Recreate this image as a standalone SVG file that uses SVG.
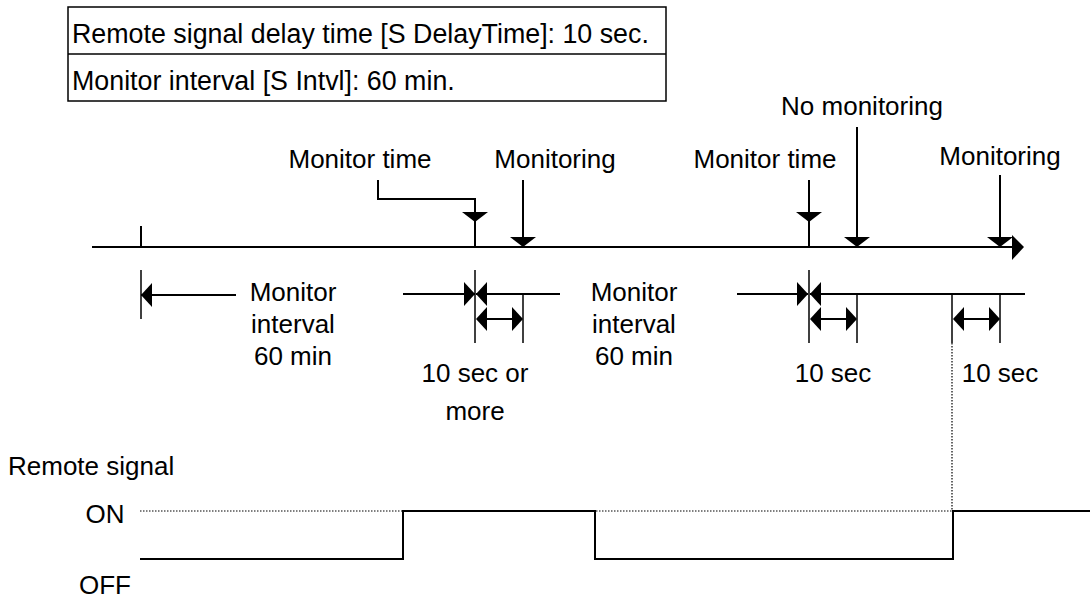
<svg xmlns="http://www.w3.org/2000/svg" width="1090" height="599" viewBox="0 0 1090 599">
<style>
text{font-family:"Liberation Sans",Arial,sans-serif;font-size:26px;fill:#000}
.tb{font-size:26.8px}
.m{text-anchor:middle}
.ln{stroke:#000;stroke-width:2;fill:none}
.thin{stroke:#000;stroke-width:1.5;fill:none}
.dot{stroke:#000;stroke-width:1.2;stroke-dasharray:1.5 1.5;fill:none}
.ah{fill:#000;stroke:none}
</style>
<rect width="1090" height="599" fill="#fff"/>
<g id="settings">
<rect x="68" y="7" width="598" height="94" class="thin"/>
<line x1="68" y1="54" x2="666" y2="54" class="thin"/>
<text class="tb" x="72" y="43">Remote signal delay time [S DelayTime]: 10 sec.</text>
<text class="tb" x="72" y="90">Monitor interval [S Intvl]: 60 min.</text>
</g>
<g id="labels-top">
<text class="m" x="360" y="168">Monitor time</text>
<text class="m" x="555" y="168">Monitoring</text>
<text class="m" x="765" y="168">Monitor time</text>
<text class="m" x="862" y="115">No monitoring</text>
<text class="m" x="1000" y="165">Monitoring</text>
</g>
<g id="timeline">
<line x1="92" y1="247" x2="1015" y2="247" class="ln"/>
<polygon points="1024,247 1012,235 1012,260" class="ah"/>
<line x1="141" y1="226" x2="141" y2="247" class="ln"/>
</g>
<g id="connectors">
<polyline points="378,180 378,199 475,199 475,247" class="ln"/>
<polygon points="462,212 488,212 475,222" class="ah"/>
<line x1="809" y1="180" x2="809" y2="247" class="ln"/>
<polygon points="796,212 822,212 809,222" class="ah"/>
<line x1="523" y1="180" x2="523" y2="240" class="ln"/>
<polygon points="510,237 536,237 523,247" class="ah"/>
<line x1="857" y1="127" x2="857" y2="240" class="ln"/>
<polygon points="844,237 870,237 857,247" class="ah"/>
<line x1="1000" y1="175" x2="1000" y2="240" class="ln"/>
<polygon points="987,237 1013,237 1000,247" class="ah"/>
</g>
<g id="dimensions">
<line x1="141" y1="270" x2="141" y2="319" class="thin"/>
<line x1="141" y1="295" x2="236" y2="295" class="ln"/>
<polygon points="141,295 152,283 152,307" class="ah"/>
<line x1="403" y1="294" x2="475" y2="294" class="ln"/>
<polygon points="475,294 464,282 464,306" class="ah"/>
<line x1="475" y1="270" x2="475" y2="343" class="thin"/>
<line x1="476" y1="294" x2="560" y2="294" class="ln"/>
<polygon points="476,294 487,282 487,306" class="ah"/>
<line x1="523" y1="294" x2="523" y2="343" class="thin"/>
<line x1="478" y1="319" x2="521" y2="319" class="ln"/>
<polygon points="476,319 487,307 487,331" class="ah"/>
<polygon points="523,319 512,307 512,331" class="ah"/>

<line x1="737" y1="294" x2="808" y2="294" class="ln"/>
<polygon points="808,294 797,282 797,306" class="ah"/>
<line x1="809" y1="270" x2="809" y2="343" class="thin"/>
<line x1="810" y1="294" x2="1025" y2="294" class="ln"/>
<polygon points="810,294 821,282 821,306" class="ah"/>
<line x1="857" y1="294" x2="857" y2="343" class="thin"/>
<line x1="812" y1="319" x2="855" y2="319" class="ln"/>
<polygon points="810,319 821,307 821,331" class="ah"/>
<polygon points="857,319 846,307 846,331" class="ah"/>

<line x1="952" y1="294" x2="952" y2="343" class="thin"/>
<line x1="1000" y1="294" x2="1000" y2="343" class="thin"/>
<line x1="955" y1="319" x2="998" y2="319" class="ln"/>
<polygon points="953,319 964,307 964,331" class="ah"/>
<polygon points="1000,319 989,307 989,331" class="ah"/>
<line x1="952" y1="343" x2="952" y2="511" class="dot"/>

<text class="m" x="293" y="301">Monitor</text>
<text class="m" x="293" y="333">interval</text>
<text class="m" x="293" y="365">60 min</text>
<text class="m" x="634" y="301">Monitor</text>
<text class="m" x="634" y="333">interval</text>
<text class="m" x="634" y="365">60 min</text>
<text class="m" x="475" y="382">10 sec or</text>
<text class="m" x="475" y="420">more</text>
<text class="m" x="833" y="382">10 sec</text>
<text class="m" x="1000" y="382">10 sec</text>
</g>
<g id="remote-signal">
<text x="8" y="475">Remote signal</text>
<text class="m" x="105" y="523">ON</text>
<text class="m" x="105" y="594">OFF</text>
<line x1="140" y1="511" x2="1090" y2="511" class="dot"/>
<polyline points="140,559 403,559 403,511 595,511 595,559 953,559 953,511 1090,511" class="ln"/>
</g>
</svg>
